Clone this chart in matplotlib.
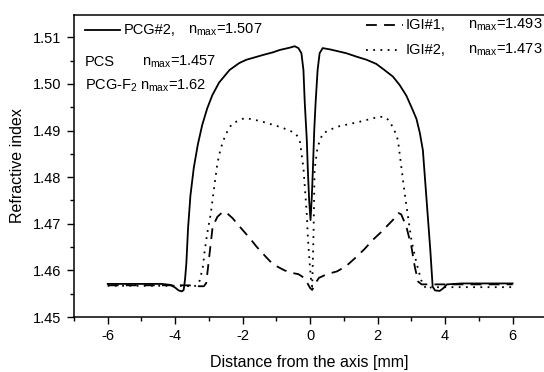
import matplotlib
matplotlib.use("Agg")
import matplotlib.pyplot as plt
from matplotlib.ticker import MultipleLocator, FormatStrFormatter

plt.rcParams['font.family'] = ['Liberation Sans', 'DejaVu Sans']
plt.rcParams['mathtext.fontset'] = 'custom'
plt.rcParams['mathtext.rm'] = 'Liberation Sans'
plt.rcParams['axes.unicode_minus'] = False

# PCG#2 (solid)
pcg2_x = [-6, -5, -4.4, -4.15, -4.0, -3.9, -3.8, -3.75, -3.71, -3.67, -3.62, -3.55,
          -3.45, -3.33, -3.2, -3.05, -2.9, -2.7, -2.39, -2.1, -1.89, -1.6, -1.41,
          -1.1, -0.9, -0.6, -0.46, -0.35, -0.26, -0.2, -0.16, -0.1, -0.07, -0.03,
          0.01, 0.05, 0.08, 0.12, 0.16, 0.22, 0.28, 0.37, 0.6, 1.07, 1.4, 1.67,
          1.96, 2.2, 2.45, 2.65, 2.85, 3.04, 3.15, 3.25, 3.34, 3.45, 3.56, 3.63,
          3.7, 3.84, 3.95, 4.05, 4.5, 5, 6]
pcg2_n = [1.4571, 1.4571, 1.4571, 1.4569, 1.4563, 1.4557, 1.4555, 1.4558, 1.4580,
          1.4615, 1.4690, 1.4760, 1.4820, 1.4870, 1.4912, 1.4948, 1.4976, 1.5003,
          1.5030, 1.5045, 1.5052, 1.5058, 1.5062, 1.5068, 1.5073, 1.5078, 1.5081,
          1.5077, 1.5066, 1.5030, 1.4959, 1.4880, 1.4816, 1.4750, 1.4708, 1.4760,
          1.4816, 1.4900, 1.4959, 1.5030, 1.5066, 1.5077, 1.5074, 1.5066, 1.5058,
          1.5052, 1.5043, 1.5030, 1.5016, 1.4998, 1.4975, 1.4944, 1.4925, 1.4895,
          1.4858, 1.4751, 1.4644, 1.4565, 1.4557, 1.4556, 1.4562, 1.4570, 1.4572,
          1.4572, 1.4572]

# IGI#1 (dashed)
igi1_x = [-6, -4.5, -3.6, -3.3, -3.15, -3.08, -2.98, -2.89, -2.75, -2.6, -2.5,
          -2.3, -2.09, -1.8, -1.59, -1.3, -1.1, -0.76, -0.5, -0.35, -0.2, -0.1,
          0.0, 0.06, 0.15, 0.26, 0.5, 0.8, 1.08, 1.37, 1.6, 1.85, 2.1, 2.26, 2.45,
          2.62, 2.7, 2.85, 3.0, 3.1, 3.2, 3.3, 4, 6]
igi1_n = [1.4568, 1.4568, 1.4568, 1.4566, 1.4566, 1.4573, 1.4637, 1.4694, 1.4715,
          1.4725, 1.4725, 1.4712, 1.4694, 1.4670, 1.4651, 1.4628, 1.4613, 1.4600,
          1.4594, 1.4592, 1.4585, 1.4575, 1.4562, 1.4558, 1.4572, 1.4584, 1.4592,
          1.4598, 1.4610, 1.4629, 1.4645, 1.4665, 1.4682, 1.4694, 1.4708, 1.4723,
          1.4720, 1.4694, 1.4651, 1.4608, 1.4576, 1.4570, 1.4570, 1.4570]

# IGI#2 (dotted)
igi2_x = [-6, -4.5, -3.7, -3.48, -3.35, -3.27, -3.18, -3.13, -3.05, -2.95, -2.86,
          -2.75, -2.65, -2.53, -2.4, -2.29, -1.94, -1.7, -1.41, -0.9, -0.6, -0.41,
          -0.3, -0.26, -0.2, -0.16, -0.1, -0.07, -0.02, 0.03, 0.06, 0.1, 0.13,
          0.22, 0.37, 0.78, 1.47, 2.06, 2.25, 2.36, 2.5, 2.6, 2.7, 2.8, 2.9, 3.0,
          3.15, 3.29, 3.44, 3.6, 6]
igi2_n = [1.4567, 1.4567, 1.4567, 1.4565, 1.4568, 1.4579, 1.4608, 1.4640, 1.4680,
          1.4720, 1.4770, 1.4830, 1.4862, 1.4887, 1.4906, 1.4916, 1.4927, 1.4924,
          1.4919, 1.4908, 1.4900, 1.4892, 1.4875, 1.4852, 1.4820, 1.4780, 1.4720,
          1.4672, 1.4620, 1.4575, 1.4565, 1.4680, 1.4816, 1.4865, 1.4894, 1.4908,
          1.4919, 1.4930, 1.4928, 1.4919, 1.4900, 1.4880, 1.4823, 1.4766, 1.4715,
          1.4665, 1.4616, 1.4579, 1.4560, 1.4564, 1.4564]

W, H = 544, 372
fig = plt.figure(figsize=(W / 100, H / 100), dpi=100)
ax = fig.add_axes([74 / W, 1 - 317 / H, (W - 74) / W, (317 - 15) / H])

ax.plot(pcg2_x, pcg2_n, color='black', lw=1.3)
ax.plot(igi1_x, igi1_n, color='black', lw=1.3, linestyle=(0, (6, 4)))
ax.plot(igi2_x, igi2_n, color='black', lw=1.3, linestyle=(0, (1, 3)))

ax.set_xlim(-7, 6.93)
ax.set_ylim(1.45, 1.5148)
ax.xaxis.set_major_locator(MultipleLocator(2))
ax.xaxis.set_minor_locator(MultipleLocator(1))
ax.yaxis.set_major_locator(MultipleLocator(0.01))
ax.yaxis.set_minor_locator(MultipleLocator(0.005))
ax.yaxis.set_major_formatter(FormatStrFormatter('%.2f'))
ax.spines['right'].set_visible(False)
for s in ax.spines.values():
    s.set_linewidth(1.1)
ax.tick_params(which='major', direction='out', length=5, width=1, labelsize=10.5, pad=4)
ax.tick_params(which='minor', direction='out', length=3, width=1)

ax.set_xlabel('Distance from the axis [mm]', fontsize=11.5, labelpad=8)
ax.set_ylabel('Refractive index', fontsize=11.5, labelpad=6)

def fx(px):
    return px / W

def fy(py):
    return 1 - py / H

fs = 10.5
fig.add_artist(plt.Line2D([fx(85), fx(120)], [fy(30), fy(30)], color='black', lw=1.3))
fig.text(fx(124), fy(30), 'PCG#2,', fontsize=fs, va='center')
fig.text(fx(188), fy(30), r'n$_{\mathrm{max}}$=1.507', fontsize=fs, va='center')
fig.text(fx(85), fy(62), 'PCS', fontsize=fs, va='center')
fig.text(fx(142), fy(62), r'n$_{\mathrm{max}}$=1.457', fontsize=fs, va='center')
fig.text(fx(85), fy(86), r'PCG-F$_{2}$', fontsize=fs, va='center')
fig.text(fx(140), fy(86), r'n$_{\mathrm{max}}$=1.62', fontsize=fs, va='center')

fig.add_artist(plt.Line2D([fx(366), fx(403)], [fy(25), fy(25)], color='black', lw=1.3,
                          linestyle=(0, (6, 4))))
fig.text(fx(406), fy(25), 'IGI#1,', fontsize=fs, va='center')
fig.text(fx(468), fy(25), r'n$_{\mathrm{max}}$=1.493', fontsize=fs, va='center')
fig.add_artist(plt.Line2D([fx(366), fx(398)], [fy(50), fy(50)], color='black', lw=1.3,
                          linestyle=(0, (1, 3))))
fig.text(fx(406), fy(50), 'IGI#2,', fontsize=fs, va='center')
fig.text(fx(468), fy(50), r'n$_{\mathrm{max}}$=1.473', fontsize=fs, va='center')

fig.savefig('out.png', dpi=100)
